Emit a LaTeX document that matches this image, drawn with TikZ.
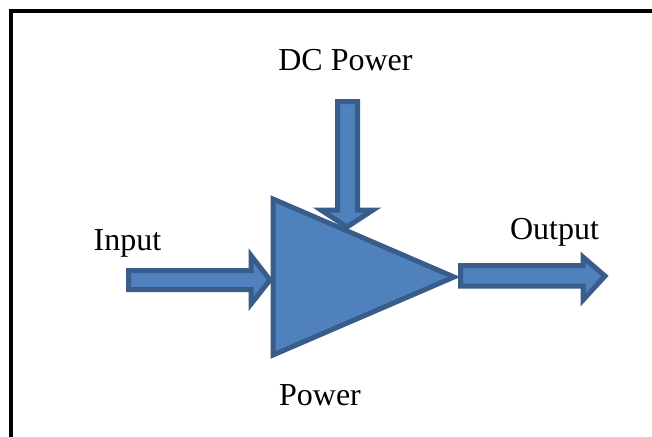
\documentclass[tikz,border=0pt]{standalone}
\usepackage{fontspec}
\setmainfont{Liberation Serif}
\usepackage{tikz}
\usetikzlibrary{positioning}
\definecolor{ampfill}{HTML}{4F81BD}
\definecolor{ampline}{HTML}{385D8A}

\begin{document}
\begin{tikzpicture}[x=0.5pt,y=-0.5pt]
	\tikzstyle{blockshape} = [draw=ampline, fill=ampfill, line width=2.5pt, line join=miter]
	\tikzstyle{lbl} = [font=\fontsize{16}{19}\selectfont, inner sep=0pt, anchor=base]
	
	\useasboundingbox (0,0) rectangle (652,436);
	\begin{scope}
		\clip (0,0) rectangle (652,436);
		\draw[black, line width=1.8pt] (11,11) rectangle (700,500);
	\end{scope}
	
	%amplifier
	\draw[blockshape] (273,199) -- (273,355) -- (454,277) -- cycle;
	
	%DC power arrow
	\draw[blockshape] (337.5,101.5) -- (357.5,101.5) -- (357.5,210) -- (373,210) -- (347,227) -- (321,210) -- (337.5,210) -- cycle;
	%input arrow
	\draw[blockshape] (128.5,270.5) -- (251,270.5) -- (251,255.5) -- (270,280) -- (251,304) -- (251,289.5) -- (128.5,289.5) -- cycle;
	%output arrow
	\draw[blockshape] (460.5,265.5) -- (583,265.5) -- (583,257) -- (605,276) -- (583,300) -- (583,286) -- (460.5,286) -- cycle;
	
	%labels
	\node[lbl] (dcpower) at (345.5,70) {DC Power};
	\node[lbl] (input) at (127.5,250) {Input};
	\node[lbl] (output) at (554.5,239) {Output};
	\node[lbl] (power) at (320,405) {Power};
\end{tikzpicture}
\end{document}
